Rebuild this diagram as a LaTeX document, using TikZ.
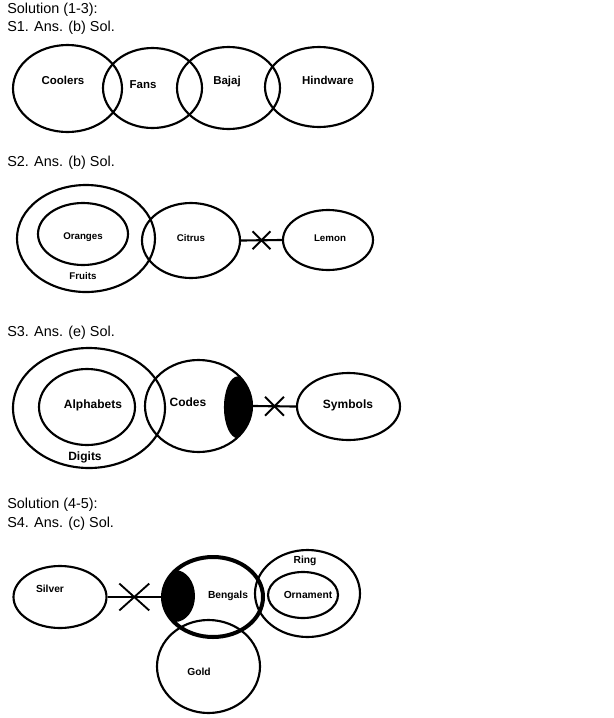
\documentclass[tikz,border=0pt]{standalone}
\usepackage{fontspec}
\setmainfont{Liberation Sans}
\usetikzlibrary{shapes.geometric,shapes.misc}

\begin{document}
\begin{tikzpicture}[x=0.75pt,y=-0.75pt]
\tikzstyle{set}=[draw,shape=ellipse,line width=1.6pt,inner sep=0pt]
\tikzstyle{head}=[anchor=west,inner sep=0pt,font=\fontsize{10.8}{12}\selectfont]
\tikzstyle{cut}=[draw,shape=cross out,line width=1.4pt,inner sep=0pt]
\tikzset{sz/.style 2 args={minimum width=#1*1.5pt,minimum height=#2*1.5pt},
  lbl/.style={inner sep=0pt,font=\fontsize{#1}{#1}\selectfont\bfseries}}

\path[use as bounding box,fill=white] (0,0) rectangle (614,718);

% S1
\node[head](t13) at (7,10){Solution (1-3):};
\node[head](s1) at (7,28){S1. Ans. (b) Sol.};
\node[set,sz={54.5}{43.5}](coolers) at (67.5,88.5){};
\node[set,sz={49.5}{40}](fans) at (152.5,88){};
\node[set,sz={51.5}{41}](bajaj) at (228.5,88){};
\node[set,sz={54}{40}](hindware) at (319,87){};
\node[lbl=8.6](coolersl) at (63,80){Coolers};
\node[lbl=8.6](fansl) at (143,85){Fans};
\node[lbl=8.6](bajajl) at (227,82){Bajaj};
\node[lbl=8.6](hindwarel) at (328,80){Hindware};
%
% S2
\node[head](s2) at (7,163){S2. Ans. (b) Sol.};
\node[set,sz={69}{53.5}](fruits) at (86,238.5){};
\node[set,sz={45}{31}](oranges) at (83,234){};
\node[set,sz={49}{37.5}](citrus) at (191,240.5){};
\node[set,sz={45}{30}](lemon) at (328,240){};
\node[lbl=7.3](orangesl) at (83,237){Oranges};
\node[lbl=7.3](fruitsl) at (83,276){Fruits};
\node[lbl=7.3](citrusl) at (191,238){Citrus};
\node[lbl=7.3](lemonl) at (330,238){Lemon};
\draw[line width=1.6pt] (citrus.east) -- (lemon.west)
  node[cut,midway,minimum width=16*0.75pt,minimum height=16*0.75pt](x2){};
%
% S3
\node[head](s3) at (7,333){S3. Ans. (e) Sol.};
\node[set,sz={76}{60}](digits) at (89,408){};
\node[set,sz={48}{38}](alphabets) at (87,407){};
\node[set,sz={53.5}{46},path picture={\fill ([xshift=29.6pt,yshift=-1pt]path picture bounding box.center) ellipse [x radius=10.5pt,y radius=23.25pt];}](codes) at (198.5,406){};
\node[set,sz={51.5}{33.5}](symbols) at (348.5,406.5){};
\node[lbl=9](alphabetsl) at (93,405){Alphabets};
\node[lbl=9](digitsl) at (85,457){Digits};
\node[lbl=9](codesl) at (188,402){Codes};
\node[lbl=9](symbolsl) at (348,405){Symbols};
\draw[line width=1.6pt] (codes.east) -- (symbols.west)
  node[cut,midway,minimum width=17*0.75pt,minimum height=17*0.75pt](x3){};
%
% S4
\node[head](t45) at (7,505){Solution (4-5):};
\node[head](s4) at (7,524){S4. Ans. (c) Sol.};
\node[set,sz={46.5}{31}](silver) at (60,597){};
\node[set,sz={51.5}{46.5}](gold) at (208.5,666.5){};
\node[set,line width=3pt,sz={50}{40},path picture={\fill ([xshift=-28.5pt,yshift=0.75pt]path picture bounding box.center) ellipse [x radius=15pt,y radius=19.5pt];}](bengals) at (213,597){};
\node[set,sz={52.5}{43.5}](ring) at (307.5,593.5){};
\node[set,sz={35}{23}](ornament) at (303,595){};
\node[lbl=7.7](silverl) at (50,589){Silver};
\node[lbl=7.7](bengalsl) at (228,596){Bengals};
\node[lbl=7.7](ringl) at (305,561){Ring};
\node[lbl=7.7](ornamentl) at (308,595){Ornament};
\node[lbl=7.7](goldl) at (199,672){Gold};
\draw[line width=1.6pt] (silver.east) -- (bengals.west)
  node[cut,midway,minimum width=28*0.75pt,minimum height=25*0.75pt](x4){};
\end{tikzpicture}
\end{document}
